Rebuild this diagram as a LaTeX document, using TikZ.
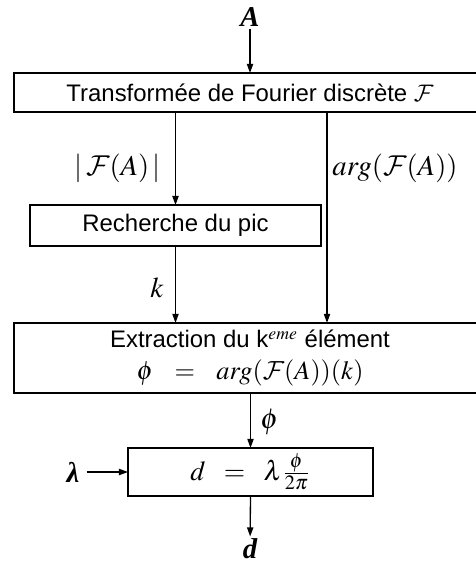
\documentclass[tikz,border=0pt]{standalone}
\usepackage{amsmath}
\usepackage{mathptmx}
\DeclareMathAlphabet{\mathcal}{OMS}{cmsy}{m}{n}
\usepackage[no-math]{fontspec}
\setmainfont{Liberation Sans}
\newfontfamily\tbi{Liberation Serif}
\usetikzlibrary{arrows.meta}
\tikzset{
  box/.style={draw, line width=0.9pt, inner sep=0pt, outer sep=0pt, align=center, font=\fontsize{10}{12}\selectfont},
  flow/.style={line width=0.55pt, -{Triangle[length=3.8pt,width=2.6pt]}},
  lbl/.style={inner sep=0pt, font=\fontsize{12}{14}\selectfont},
  io/.style={inner sep=0pt, outer sep=3pt, font=\tbi\bfseries\itshape\fontsize{12}{14}\selectfont}
}
\begin{document}
\begin{tikzpicture}[x=0.418pt, y=-0.418pt]
\useasboundingbox (0,0) rectangle (476,563);
\clip (0,0) rectangle (476,563);
% nodes
\node[io, outer sep=1pt] (A) at (250,17) {A};
\node[box, minimum width=197.3pt, minimum height=16.3pt] (tfd) at (250,92.5) {Transformée de Fourier discrète $\mathcal{F}$};
\node[box, minimum width=121.6pt, minimum height=17.1pt] (pic) at (175.5,225.5) {Recherche du pic};
\node[box, minimum width=197.3pt, minimum height=29.3pt] (ext) at (250,358) {Extraction du k$^{eme}$ élément\\[1pt] {\fontsize{11}{13}\selectfont$\phi\hspace{6.5pt}=\hspace{6.5pt}arg(\mathcal{F}(A))(k)$}};
\node[box, minimum width=102.4pt, minimum height=20.1pt] (dist) at (250.5,472) {{\fontsize{11.5}{13}\selectfont$d \;\;=\;\; \lambda\frac{\phi}{2\pi}$}};
\node[io] (lam) at (73,472) {λ};
\node[io, outer sep=1pt] (d) at (250,549) {d};
\coordinate (r) at (327,0);
% labels
\node[lbl, anchor=east] (lmod) at (161,168) {$\vert\,\mathcal{F}(A)\,\vert$};
\node[lbl, anchor=west] (larg) at (332,168) {$arg(\mathcal{F}(A))$};
\node[lbl, anchor=east] (lk) at (164,288) {$k$};
\node[lbl, anchor=west] (lphi) at (260,422) {$\phi$};
% connectors
\draw[flow] (A) -- (tfd.north);
\draw[flow] (tfd.south -| pic.north) -- (pic.north);
\draw[flow] (tfd.south -| r) -- (ext.north -| r);
\draw[flow] (pic.south) -- (ext.north -| pic.south);
\draw[flow] (ext.south -| dist.north) -- (dist.north);
\draw[flow] (lam) -- (dist.west);
\draw[flow] (dist.south) -- (d);
\end{tikzpicture}
\end{document}
